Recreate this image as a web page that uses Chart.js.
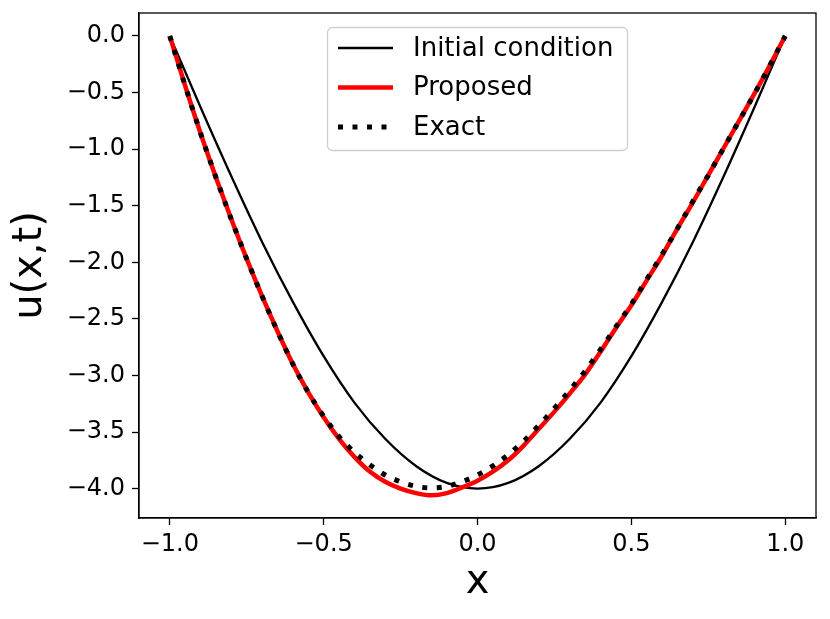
<!DOCTYPE html>
<html>
<head>
<meta charset="utf-8">
<script src="https://cdn.jsdelivr.net/npm/chart.js@4.4.0/dist/chart.umd.min.js"></script>
<style>
  body { margin: 0; background: #fff; }
  #wrap { width: 830px; height: 619px; }
</style>
</head>
<body>
<div id="wrap"><canvas id="uChart" width="830" height="619"></canvas></div>
<script>
// data
const initX = [-1.0, -0.9, -0.8, -0.7, -0.6, -0.5, -0.4, -0.3, -0.2, -0.1, 0.0, 0.1, 0.2, 0.3, 0.4, 0.5, 0.6, 0.7, 0.8, 0.9, 1.0];
const initU = [0, -0.63, -1.24, -1.82, -2.35, -2.83, -3.24, -3.56, -3.80, -3.95, -4.00, -3.95, -3.80, -3.56, -3.24, -2.83, -2.35, -1.82, -1.24, -0.63, 0];

const solX = [-1.0, -0.95, -0.9, -0.85, -0.8, -0.75, -0.7, -0.65, -0.6, -0.55, -0.5, -0.45, -0.4, -0.35, -0.3, -0.25, -0.2, -0.15, -0.1, -0.05,
  0.0, 0.05, 0.1, 0.15, 0.2, 0.25, 0.3, 0.35, 0.4, 0.45, 0.5, 0.55, 0.6, 0.65, 0.7, 0.75, 0.8, 0.85, 0.9, 0.95, 1.0];
const proposedU = [0, -0.44, -0.86, -1.25, -1.62, -1.97, -2.30, -2.61, -2.90, -3.15, -3.37, -3.56, -3.72, -3.85, -3.94, -4.00, -4.04, -4.06, -4.04, -3.99,
  -3.93, -3.85, -3.75, -3.62, -3.47, -3.32, -3.16, -2.99, -2.79, -2.58, -2.38, -2.16, -1.94, -1.70, -1.47, -1.23, -0.99, -0.75, -0.51, -0.26, 0];
const exactU = [0, -0.44, -0.86, -1.25, -1.62, -1.97, -2.30, -2.61, -2.90, -3.15, -3.36, -3.54, -3.68, -3.79, -3.88, -3.94, -3.98, -3.995, -3.98, -3.94,
  -3.88, -3.80, -3.70, -3.58, -3.44, -3.29, -3.13, -2.96, -2.77, -2.57, -2.37, -2.15, -1.93, -1.70, -1.46, -1.23, -0.99, -0.75, -0.51, -0.26, 0];

const xTicks = [-1.0, -0.5, 0.0, 0.5, 1.0];
const yTicks = [0.0, -0.5, -1.0, -1.5, -2.0, -2.5, -3.0, -3.5, -4.0];

const pts = (xs, ys) => xs.map((x, i) => ({ x: x, y: ys[i] }));
const fmt = v => v.toFixed(1).replace('-', '\u2212');
const FONT = "'DejaVu Sans', sans-serif";

// box around the plot area
const framePlugin = {
  id: 'frame',
  afterDraw(chart) {
    const { ctx, chartArea: a } = chart;
    ctx.save();
    ctx.strokeStyle = '#000';
    ctx.lineWidth = 1.3;
    ctx.strokeRect(a.left, a.top, a.right - a.left, a.bottom - a.top);
    ctx.restore();
  }
};

// matplotlib style legend box, upper centre
const legendBox = {
  id: 'legendBox',
  afterDraw(chart) {
    const ctx = chart.ctx;
    const bx = 327.5, by = 27.5, bw = 300, bh = 123, r = 5;
    ctx.save();
    ctx.beginPath();
    ctx.roundRect(bx, by, bw, bh, r);
    ctx.fillStyle = 'rgba(255,255,255,0.8)';
    ctx.fill();
    ctx.strokeStyle = '#d0d0d0';
    ctx.lineWidth = 1.3;
    ctx.stroke();
    const rows = [48, 87.5, 127];
    chart.data.datasets.forEach((ds, i) => {
      const y = rows[i];
      ctx.beginPath();
      ctx.strokeStyle = ds.borderColor;
      ctx.lineWidth = ds.borderWidth;
      ctx.lineCap = 'butt';
      ctx.setLineDash(ds.borderDash || []);
      ctx.moveTo(338, y);
      ctx.lineTo(393, y);
      ctx.stroke();
      ctx.setLineDash([]);
      ctx.fillStyle = '#000';
      ctx.font = '26px ' + FONT;
      ctx.textBaseline = 'middle';
      ctx.textAlign = 'left';
      ctx.fillText(ds.label, 413, y + 1);
    });
    ctx.restore();
  }
};

new Chart(document.getElementById('uChart'), {
  type: 'line',
  data: {
    datasets: [
      {
        label: 'Initial condition',
        data: pts(initX, initU),
        borderColor: '#000000',
        borderWidth: 2.3,
        pointRadius: 0,
        cubicInterpolationMode: 'monotone',
        order: 2
      },
      {
        label: 'Proposed',
        data: pts(solX, proposedU),
        borderColor: '#ff0000',
        borderWidth: 4.5,
        pointRadius: 0,
        cubicInterpolationMode: 'monotone',
        order: 1
      },
      {
        label: 'Exact',
        data: pts(solX, exactU),
        borderColor: '#000000',
        borderWidth: 5,
        borderDash: [5, 9.5],
        borderCapStyle: 'butt',
        pointRadius: 0,
        cubicInterpolationMode: 'monotone',
        order: 0
      }
    ]
  },
  options: {
    responsive: false,
    animation: false,
    layout: { padding: { top: 13, right: 14, left: 0, bottom: 0 } },
    plugins: {
      legend: { display: false },
      tooltip: { enabled: false }
    },
    scales: {
      x: {
        type: 'linear',
        min: -1.1,
        max: 1.1,
        afterBuildTicks: s => { s.ticks = xTicks.map(v => ({ value: v })); },
        afterFit: s => { s.height = 101; s.paddingLeft = 0; s.paddingRight = 0; },
        grid: { drawOnChartArea: false, drawTicks: true, tickLength: 7, tickColor: '#000', tickWidth: 1.3 },
        border: { display: true, color: '#000', width: 1.3 },
        ticks: {
          color: '#000',
          padding: 5,
          maxRotation: 0,
          autoSkip: false,
          font: { family: FONT, size: 24 },
          callback: v => fmt(v)
        },
        title: {
          display: true,
          text: 'x',
          color: '#000',
          font: { family: FONT, size: 40, lineHeight: 1 },
          padding: { top: 0, bottom: 16 }
        }
      },
      y: {
        type: 'linear',
        min: -4.26,
        max: 0.203,
        afterBuildTicks: s => { s.ticks = yTicks.map(v => ({ value: v })); },
        afterFit: s => { s.width = 139; s.paddingTop = 0; s.paddingBottom = 0; },
        grid: { drawOnChartArea: false, drawTicks: true, tickLength: 7, tickColor: '#000', tickWidth: 1.3 },
        border: { display: true, color: '#000', width: 1.3 },
        ticks: {
          color: '#000',
          padding: 7,
          autoSkip: false,
          font: { family: FONT, size: 24 },
          callback: v => fmt(v)
        },
        title: {
          display: true,
          text: 'u(x,t)',
          color: '#000',
          font: { family: FONT, size: 40, lineHeight: 1 },
          padding: { top: 11, bottom: 0 }
        }
      }
    }
  },
  plugins: [framePlugin, legendBox]
});
</script>
</body>
</html>
